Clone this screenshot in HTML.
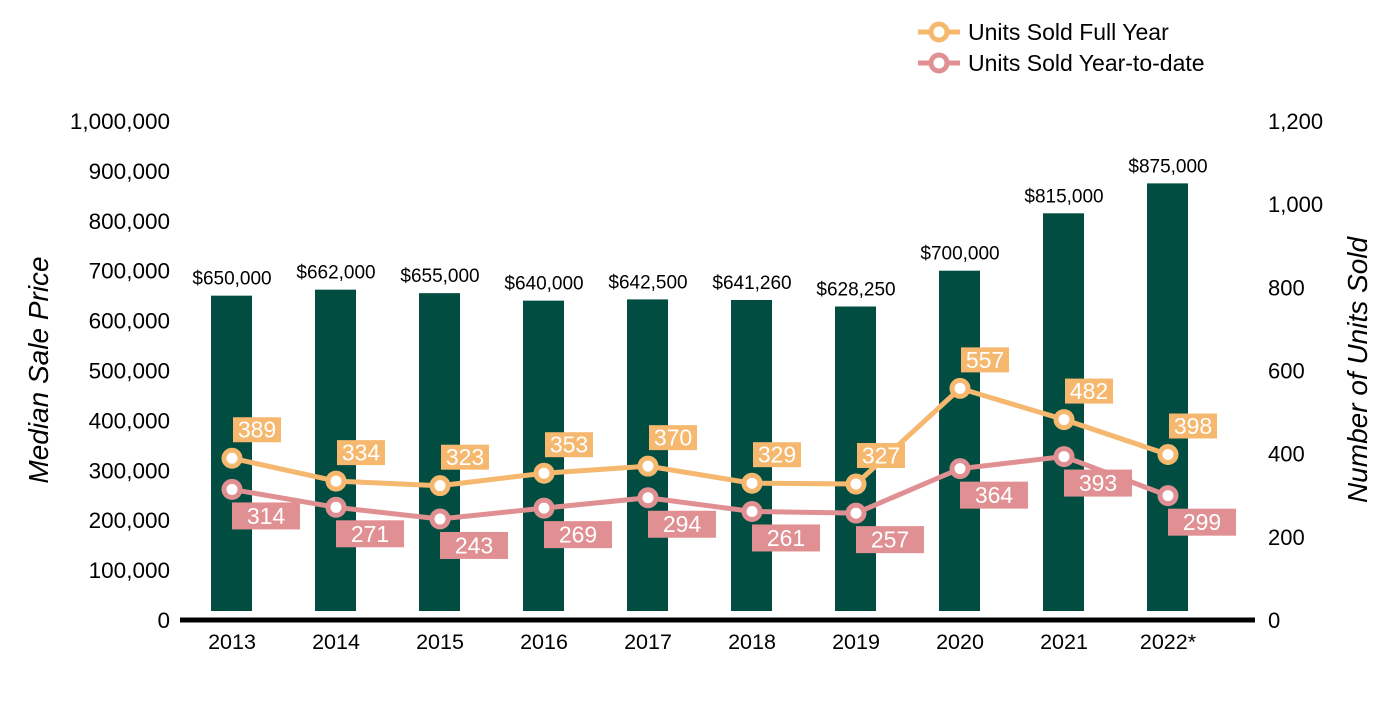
<!DOCTYPE html>
<html><head><meta charset="utf-8"><style>
body{margin:0;background:#fff;}
svg text{font-family:"Liberation Sans",Arial,sans-serif;}
</style></head><body>
<svg id="c" width="1400" height="700" xmlns="http://www.w3.org/2000/svg"></svg>
<script>
const categories=["2013","2014","2015","2016","2017","2018","2019","2020","2021","2022*"];
const prices=[650000,662000,655000,640000,642500,641260,628250,700000,815000,875000];
const priceLabels=["$650,000","$662,000","$655,000","$640,000","$642,500","$641,260","$628,250","$700,000","$815,000","$875,000"];
const fullYear=[389,334,323,353,370,329,327,557,482,398];
const ytd=[314,271,243,269,294,261,257,364,393,299];
const leftTicks=[0,100000,200000,300000,400000,500000,600000,700000,800000,900000,1000000];
const rightTicks=[0,200,400,600,800,1000,1200];
const NS="http://www.w3.org/2000/svg";
const svg=document.getElementById('c');
const y0=620,yTop=121;
const yL=v=>y0-(v/1000000)*(y0-yTop);
const yR=v=>y0-(v/1200)*(y0-yTop);
const xC=i=>232+i*104;
function el(t,a,txt){const e=document.createElementNS(NS,t);for(const k in a)e.setAttribute(k,a[k]);if(txt!==undefined)e.textContent=txt;svg.appendChild(e);return e;}
leftTicks.forEach(v=>{const t=el('text',{x:170,y:yL(v)+8,'text-anchor':'end','font-size':22.5,fill:'#000'},v.toLocaleString('en-US'));

});
rightTicks.forEach(v=>{const t=el('text',{x:1268,y:yR(v)+8,'font-size':22,fill:'#000'},v.toLocaleString('en-US'));

});
let t=el('text',{transform:'translate(48,370) rotate(-90)','text-anchor':'middle','font-size':28,'font-style':'italic'},'Median Sale Price');


t=el('text',{transform:'translate(1367,370) rotate(-90)','text-anchor':'middle','font-size':28,'font-style':'italic'},'Number of Units Sold');


categories.forEach((c,i)=>{
const b=el('rect',{x:xC(i)-21,y:yL(prices[i]),width:41,height:611-yL(prices[i]),fill:'#024d41'});


const l=el('text',{x:xC(i),y:yL(prices[i])-11,'text-anchor':'middle','font-size':19},priceLabels[i]);


const x=el('text',{x:xC(i),y:649,'text-anchor':'middle','font-size':21.5},c);


});
const ax=el('line',{x1:180,x2:1255,y1:620,y2:620,stroke:'#000','stroke-width':5});


function series(vals,color,name,above){
const pl=el('polyline',{points:vals.map((v,i)=>xC(i)+','+yR(v)).join(' '),fill:'none',stroke:color,'stroke-width':5});


vals.forEach((v,i)=>{
const c=el('circle',{cx:xC(i),cy:yR(v),r:8,fill:'#fff',stroke:color,'stroke-width':5});


const w=above?48:68,h=above?25:27,bx=above?xC(i)+1:xC(i),by=above?yR(v)-41:yR(v)+13;
const r=el('rect',{x:bx,y:by,width:w,height:h,fill:color});


const tx=el('text',{x:bx+w/2,y:by+h/2+8,'text-anchor':'middle','font-size':23,fill:'#fff'},v);


});}
series(fullYear,'#f5b86e','full-year',true);
series(ytd,'#e09092','ytd',false);
[['Units Sold Full Year','#f5b86e',32],['Units Sold Year-to-date','#e09092',63]].forEach(([n,c,y])=>{
const g=el('line',{x1:918,x2:960,y1:y,y2:y,stroke:c,'stroke-width':5});


const ci=el('circle',{cx:939,cy:y,r:8,fill:'#fff',stroke:c,'stroke-width':5});


const tt=el('text',{x:968,y:y+8,'font-size':23},n);


});
</script>
</body></html>
